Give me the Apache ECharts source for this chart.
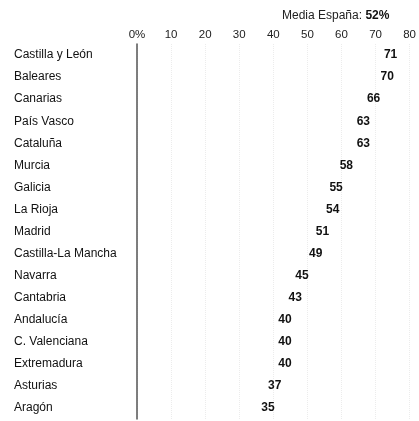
<!DOCTYPE html>
<html>
<head>
<meta charset="utf-8">
<script src="https://cdn.jsdelivr.net/npm/echarts@6/dist/echarts.min.js"></script>
<style>html,body{margin:0;padding:0;background:#fff;}#c{width:419px;height:421px;}</style>
</head>
<body>
<div id="c"></div>
<script>
var regions = ['Castilla y León','Baleares','Canarias','País Vasco','Cataluña','Murcia','Galicia','La Rioja','Madrid','Castilla-La Mancha','Navarra','Cantabria','Andalucía','C. Valenciana','Extremadura','Asturias','Aragón'];
var values = [71,70,66,63,63,58,55,54,51,49,45,43,40,40,40,37,35];
var mediaLabel = 'Media España: ';
var mediaValue = '52%';

var chart = echarts.init(document.getElementById('c'));
var FONT = '"Liberation Sans", Arial, sans-serif';
chart.setOption({
  animation: false,
  backgroundColor: '#fff',
  title: {
    text: '{a|' + mediaLabel + '}{b|' + mediaValue + '}',
    left: 282, top: 10, padding: 0,
    textStyle: {
      fontWeight: 'normal',
      rich: {
        a: {fontFamily: FONT, fontSize: 12, color: '#222', fontWeight: 'normal'},
        b: {fontFamily: FONT, fontSize: 12, color: '#111', fontWeight: 'bold'}
      }
    }
  },
  grid: {left: 137, right: 9, top: 44, bottom: 2, containLabel: false},
  xAxis: {
    type: 'value', position: 'top', min: 0, max: 80, interval: 10,
    axisLine: {show: false}, axisTick: {show: false},
    axisLabel: {
      margin: 3, fontFamily: FONT, fontSize: 11.5, color: '#222',
      formatter: function (v) { return v === 0 ? '0%' : String(v); }
    },
    splitLine: {show: true, lineStyle: {color: '#ececec', type: 'dotted', width: 1}}
  },
  yAxis: {
    type: 'category', data: regions, inverse: true,
    axisLine: {show: true, lineStyle: {color: '#555', width: 1.5}},
    axisTick: {show: false},
    axisLabel: {align: 'left', margin: 123, fontFamily: FONT, fontSize: 12, color: '#111'}
  },
  series: [{
    type: 'bar', data: values, barWidth: 12,
    itemStyle: {color: 'rgba(255,255,255,0)'},
    label: {
      show: true, position: 'right', distance: 5,
      fontFamily: FONT, fontSize: 12, fontWeight: 'bold', color: '#111'
    }
  }]
});
</script>
</body>
</html>
